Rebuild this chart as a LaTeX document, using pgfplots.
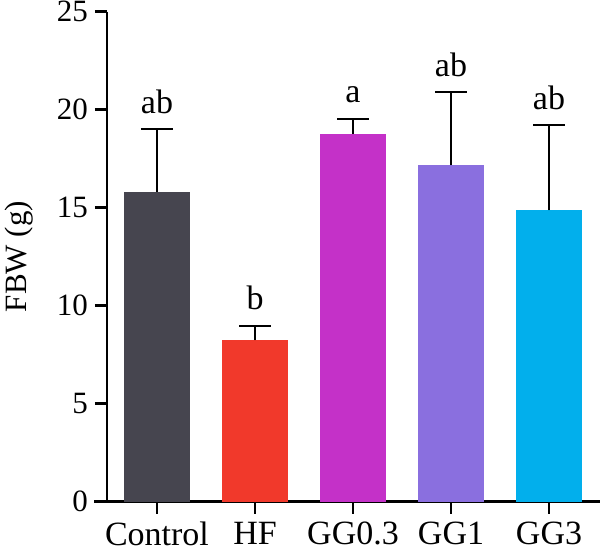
\documentclass[border=0pt]{standalone}
\usepackage{pgfplots}
\pgfplotsset{compat=1.18}
\usepackage{fontspec}
\setmainfont{Liberation Serif}

\definecolor{cControl}{HTML}{46454F}
\definecolor{cHF}{HTML}{F1392B}
\definecolor{cGGa}{HTML}{C431C8}
\definecolor{cGGb}{HTML}{8A6FDF}
\definecolor{cGGc}{HTML}{02AFEC}

\begin{document}
\begin{tikzpicture}
\begin{axis}[
    scale only axis,
    width=246.5pt, height=245pt,
    xmin=-0.51, xmax=4.52,
    ymin=0, ymax=25,
    axis x line=bottom, axis y line=left,
    axis line style={-, line width=1.4pt},
    every tick/.style={line width=1.4pt, black},
    tick align=outside,
    major tick length=6pt,
    xtick={0,1,2,3,4},
    xticklabels={Control,HF,GG0.3,GG1,GG3},
    ytick={0,5,10,15,20,25},
    /pgf/number format/assume math mode=true,
    font=\fontsize{15.5}{18}\selectfont,
    yticklabel style={font=\fontsize{15.5}{18}\selectfont},
    xticklabel style={font=\fontsize{17}{20}\selectfont, inner ysep=0pt, text depth=0pt, yshift=-4pt},
    ylabel={FBW (g)},
    every axis y label/.style={at={(rel axis cs:0,0.5)}, xshift=-44pt, rotate=90, anchor=center, font=\fontsize{15.5}{18}\selectfont},
    error bars/y dir=plus,
    error bars/y explicit,
    error bars/error mark=-,
    error bars/error bar style={line width=1pt, black},
    error bars/error mark options={rotate=90, mark size=8pt, line width=1pt, black},
    clip=false,
]
% group means with upper SD
\addplot[ybar, bar width=33pt, bar shift=0pt, fill=cControl, draw=none] coordinates {(0,15.82) +- (0,3.17)};
\addplot[ybar, bar width=33pt, bar shift=0pt, fill=cHF, draw=none] coordinates {(1,8.23) +- (0,0.74)};
\addplot[ybar, bar width=33pt, bar shift=0pt, fill=cGGa, draw=none] coordinates {(2,18.75) +- (0,0.79)};
\addplot[ybar, bar width=33pt, bar shift=0pt, fill=cGGb, draw=none] coordinates {(3,17.16) +- (0,3.72)};
\addplot[ybar, bar width=33pt, bar shift=0pt, fill=cGGc, draw=none] coordinates {(4,14.86) +- (0,4.35)};
% significance letters above the error caps
\addplot[draw=none, mark=none, nodes near coords, point meta=explicit symbolic,
    every node near coord/.style={anchor=base, yshift=8pt, black, font=\fontsize{17}{20}\selectfont}]
    table[meta=lab] {
x y lab
0 18.99 ab
1 8.97 b
2 19.54 a
3 20.88 ab
4 19.21 ab
};
\coordinate (O) at (rel axis cs:0,0);
\end{axis}
\draw[line width=1.4pt] (O) -- ++(-6.7pt,0);
\pgfresetboundingbox
\path (O) ++(-53.5pt,-25.2pt) rectangle ++(300pt,276pt);
\end{tikzpicture}
\end{document}
